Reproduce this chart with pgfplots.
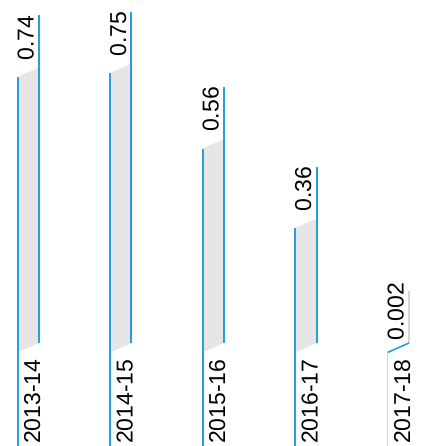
\documentclass[border=0pt]{standalone}
\usepackage{fontspec}
\setmainfont{Liberation Sans}
\usepackage{pgfplots}
\pgfplotsset{compat=1.18}
\definecolor{barblue}{RGB}{38,160,218}
\definecolor{barfill}{RGB}{230,230,231}
\definecolor{linegrey}{RGB}{212,212,212}
\tikzset{lbl/.style={font=\fontsize{23bp}{26bp}\selectfont, inner sep=0pt, outer sep=0pt, rotate=90}}
\begin{document}
\begin{tikzpicture}
\useasboundingbox (0,0) rectangle (426bp,446bp);
\begin{axis}[
  at={(0,0)}, anchor=south west,
  scale only axis, width=426bp, height=446bp,
  xmin=-0.1892, xmax=4.4162, ymin=-0.18847, ymax=0.93382,
  hide axis, clip=false,
]
% bars: base-left 0.0468, skew 0.0239, width 0.2324, label room 0.1309
% 2013-14 : 0.74
\addplot[fill=barfill, draw=none] coordinates {(0,0.0468) (0.2324,0.0707) (0.2324,0.7639) (0,0.74)} -- cycle;
\addplot[color=barblue, line width=2bp] coordinates {(0,-0.19) (0,0.74)};
\addplot[color=barblue, line width=2bp] coordinates {(0.2324,0.0707) (0.2324,0.8948)};
% 2014-15 : 0.75
\addplot[fill=barfill, draw=none] coordinates {(1,0.0468) (1.2324,0.0707) (1.2324,0.7739) (1,0.75)} -- cycle;
\addplot[color=barblue, line width=2bp] coordinates {(1,-0.19) (1,0.75)};
\addplot[color=barblue, line width=2bp] coordinates {(1.2324,0.0707) (1.2324,0.9048)};
% 2015-16 : 0.56
\addplot[fill=barfill, draw=none] coordinates {(2,0.0468) (2.2324,0.0707) (2.2324,0.5839) (2,0.56)} -- cycle;
\addplot[color=barblue, line width=2bp] coordinates {(2,-0.19) (2,0.56)};
\addplot[color=barblue, line width=2bp] coordinates {(2.2324,0.0707) (2.2324,0.7148)};
% 2016-17 : 0.36
\addplot[fill=barfill, draw=none] coordinates {(3,0.0468) (3.2324,0.0707) (3.2324,0.3839) (3,0.36)} -- cycle;
\addplot[color=barblue, line width=2bp] coordinates {(3,-0.19) (3,0.36)};
\addplot[color=barblue, line width=2bp] coordinates {(3.2324,0.0707) (3.2324,0.5148)};
% 2017-18 : 0.002
\addplot[color=linegrey, line width=1.2bp] coordinates {(4,-0.19) (4,0.0468)};
\addplot[color=linegrey, line width=1.2bp] coordinates {(4.2324,0.0707) (4.2324,0.2016)};
\addplot[color=barblue, line width=1.6bp] coordinates {(4,0.0468) (4.2324,0.0707)};
% value labels
\node[lbl, anchor=north east] at (axis cs:0,0.8948) {0.74};
\node[lbl, anchor=north east] at (axis cs:1,0.9048) {0.75};
\node[lbl, anchor=north east] at (axis cs:2,0.7148) {0.56};
\node[lbl, anchor=north east] at (axis cs:3,0.5148) {0.36};
\node[lbl, anchor=north east] at (axis cs:4,0.2216) {0.002};
% category labels
\node[lbl, anchor=north west] at (axis cs:0.0703,-0.1834) {2013-14};
\node[lbl, anchor=north west] at (axis cs:1.0703,-0.1834) {2014-15};
\node[lbl, anchor=north west] at (axis cs:2.0703,-0.1834) {2015-16};
\node[lbl, anchor=north west] at (axis cs:3.0703,-0.1834) {2016-17};
\node[lbl, anchor=north west] at (axis cs:4.0703,-0.1834) {2017-18};
\end{axis}
\end{tikzpicture}
\end{document}
